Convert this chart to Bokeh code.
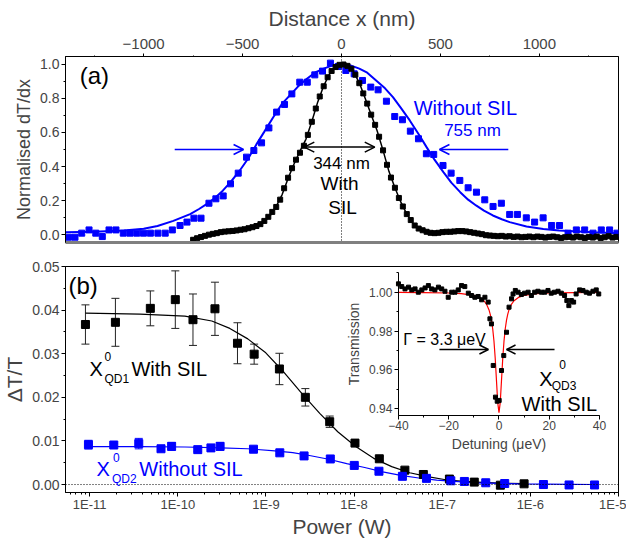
import numpy as np
from bokeh.plotting import figure
from bokeh.layouts import column
from bokeh.models import (Range1d, LinearAxis, LinearScale, SingleIntervalTicker, PrintfTickFormatter,
                          LogTicker, CustomJSTickFormatter, ColumnDataSource, Whisker, TeeHead, Arrow,
                          OpenHead, Label, Span, FixedTicker)
from bokeh.embed import file_html
from bokeh.resources import INLINE

FONT = "Liberation Sans"
BLUE = "#0000ff"

# ---------------- panel (a): Distance x (nm) vs normalised dT/dx ----------------
blue_a_x = [-1380, -1347, -1313, -1276, -1242, -1209, -1175, -1140, -1103, -1069, -1035, -1001, -966, -928,
            -891, -855, -816, -781, -746, -710, -670, -635, -598, -561, -522, -480, -443, -404, -367, -328,
            -288, -251, -211, -173, -135, -96, -56, -17, 22, 64, 106, 148, 185, 227, 269, 308, 348, 389,
            429, 466, 513, 554, 598, 640, 682, 724, 766, 808, 850, 889, 934, 976, 1019, 1062, 1102, 1145,
            1187, 1229, 1271, 1313, 1355, 1392]
blue_a_y = [-0.016, -0.016, 0.008, 0.027, 0.008, -0.012, 0.027, 0.027, 0.008, 0.008, 0.008, 0.008, 0.008,
            0.008, 0.008, 0.027, 0.053, 0.073, 0.096, 0.096, 0.184, 0.210, 0.227, 0.298, 0.361, 0.455,
            0.494, 0.539, 0.627, 0.720, 0.765, 0.827, 0.896, 0.896, 0.939, 0.961, 1.008, 0.988, 0.965,
            0.945, 0.906, 0.867, 0.851, 0.784, 0.694, 0.675, 0.608, 0.563, 0.475, 0.471, 0.406, 0.361,
            0.318, 0.275, 0.249, 0.204, 0.165, 0.184, 0.118, 0.118, 0.098, 0.073, 0.098, 0.053, 0.053,
            0.008, 0.027, 0.027, 0.008, 0.027, 0.027, 0.008]

black_a_x = list(range(-750, 1400, 20))
black_a_y = [-0.031, -0.022, -0.015, -0.008, -0.001, 0.004, 0.008, 0.014, 0.017, 0.019, 0.021, 0.024,
             0.028, 0.031, 0.037, 0.043, 0.050, 0.061, 0.080, 0.104, 0.133, 0.162, 0.205, 0.272, 0.334,
             0.390, 0.440, 0.481, 0.522, 0.586, 0.663, 0.741, 0.812, 0.872, 0.925, 0.962, 0.985, 0.998,
             1.000, 0.992, 0.975, 0.940, 0.890, 0.830, 0.770, 0.705, 0.645, 0.575, 0.495, 0.410, 0.335,
             0.275, 0.215, 0.165, 0.120, 0.085, 0.053, 0.035, 0.025, 0.016, 0.010, 0.008, 0.010, 0.014,
             0.016, 0.016, 0.018, 0.020, 0.020, 0.018, 0.014, 0.010, 0.006, 0.002, -0.004, -0.006, -0.008,
             -0.010, -0.008, -0.012, -0.010, -0.014, -0.012, -0.016, -0.014, -0.012, -0.016, -0.012,
             -0.014, -0.018, -0.014, -0.012, -0.016, -0.020, -0.016, -0.014, -0.018, -0.012, -0.016,
             -0.020, -0.014, -0.018, -0.012, -0.020, -0.016, -0.010, -0.018, -0.014]

fit_black_a_x = [-760, -720, -680, -640, -600, -560, -520, -480, -440, -400, -360, -330, -300, -270, -240,
                 -210, -180, -150, -120, -90, -60, -30, 0, 30, 60, 90, 120, 150, 180, 210, 240, 270, 300,
                 330, 360, 390, 420, 460, 520, 580, 640, 700, 760, 850, 1000, 1200, 1400]
fit_black_a_y = [-0.025, -0.012, -0.002, 0.006, 0.012, 0.017, 0.022, 0.030, 0.042, 0.065, 0.112, 0.165,
                 0.235, 0.330, 0.415, 0.490, 0.560, 0.665, 0.780, 0.875, 0.945, 0.987, 1.000, 0.990, 0.960,
                 0.892, 0.800, 0.705, 0.610, 0.495, 0.370, 0.275, 0.190, 0.120, 0.068, 0.036, 0.020, 0.010,
                 0.013, 0.017, 0.016, 0.004, -0.006, -0.012, -0.014, -0.015, -0.015]

fit_blue_a_x = [-1400, -1250, -1100, -1000, -930, -850, -765, -720, -680, -640, -600, -560, -515, -470, -430,
                -390, -345, -300, -260, -220, -175, -130, -90, -45, 0, 45, 90, 130, 175, 220, 260, 300, 345,
                390, 430, 470, 515, 555, 600, 640, 680, 720, 765, 810, 850, 935, 1020, 1100, 1270, 1400]
fit_blue_a_y = [0.013, 0.016, 0.024, 0.034, 0.050, 0.080, 0.120, 0.150, 0.180, 0.215, 0.258, 0.310, 0.375,
                0.450, 0.530, 0.605, 0.690, 0.770, 0.820, 0.870, 0.916, 0.955, 0.976, 0.995, 1.000, 0.995,
                0.976, 0.952, 0.906, 0.860, 0.808, 0.745, 0.671, 0.590, 0.514, 0.440, 0.367, 0.305, 0.249,
                0.205, 0.171, 0.140, 0.112, 0.090, 0.073, 0.047, 0.033, 0.024, 0.014, 0.008]

# ---------------- panel (b): Power (W) vs dT/T ----------------
black_b_p = [8.96e-12, 1.96e-11, 4.88e-11, 9.37e-11, 1.487e-10, 2.64e-10, 4.755e-10, 7.35e-10, 1.422e-9,
             2.80e-9, 5.29e-9, 1.024e-8, 1.934e-8, 3.77e-8, 6.11e-8, 1.207e-7, 2.31e-7, 4.57e-7, 8.49e-7]
black_b_y = [0.0367, 0.0372, 0.0404, 0.0424, 0.0378, 0.0403, 0.0324, 0.0299, 0.0265, 0.0200, 0.0144,
             0.0095, 0.0059, 0.0033, 0.0023, 0.00125, 0.00055, -0.00015, 0.00016]
black_b_err = [0.0045, 0.0055, 0.0040, 0.0066, 0.0059, 0.0061, 0.0047, 0.0023, 0.0036, 0.0020, 0.0013,
               0.0005, 0.0005, 0.0004, 0.0003, 0.0003, 0.0003, 0.0003, 0.0003]

blue_b_p = [9.69e-12, 1.879e-11, 3.607e-11, 6.45e-11, 8.51e-11, 1.685e-10, 2.377e-10, 3.02e-10, 7.22e-10,
            1.437e-9, 2.708e-9, 5.375e-9, 1.005e-8, 1.915e-8, 3.534e-8, 6.625e-8, 1.252e-7, 1.784e-7,
            3.117e-7, 5.117e-7, 1.407e-6, 2.75e-6, 5.35e-6]
blue_b_y = [0.00914, 0.00906, 0.00938, 0.0082, 0.00875, 0.0080, 0.0084, 0.00875, 0.0081, 0.00727, 0.00656,
            0.00586, 0.00438, 0.00305, 0.00188, 0.00141, 0.00086, 0.0007, 0.0004, 0.00023, 0.0, -0.0001,
            -0.0001]
blue_b_err = [0.0010, 0.0004, 0.0012, 0.0003, 0.0009, 0.0004, 0.0004, 0.0009, 0.0004, 0.0003, 0.0003,
              0.0003, 0.0003, 0.0003, 0.0003, 0.0003, 0.0003, 0.0003, 0.0003, 0.0003, 0.0003, 0.0003,
              0.0003]

fit_black_b_p = [8.96e-12, 3.714e-11, 1.203e-10, 2.433e-10, 3.893e-10, 6.225e-10, 9.96e-10, 1.594e-9,
                 2.55e-9, 4.078e-9, 6.526e-9, 1.044e-8, 1.670e-8, 2.673e-8, 4.276e-8, 6.84e-8, 1.094e-7,
                 1.751e-7, 2.802e-7, 4.48e-7, 8.49e-7]
fit_black_b_y = [0.0393, 0.0391, 0.0386, 0.0375, 0.0358, 0.0334, 0.0302, 0.0258, 0.0209, 0.0163, 0.0121,
                 0.0087, 0.0060, 0.0041, 0.0027, 0.0018, 0.0011, 0.0007, 0.0005, 0.0003, 0.0002]

fit_blue_b_p = [9.69e-12, 3.714e-11, 1.203e-10, 3.077e-10, 6.225e-10, 1.26e-9, 2.016e-9, 3.226e-9, 5.161e-9,
                8.256e-9, 1.32e-8, 2.113e-8, 3.381e-8, 5.41e-8, 8.65e-8, 1.384e-7, 2.215e-7, 3.543e-7,
                7.17e-7, 1.45e-6, 2.935e-6, 5.34e-6]
fit_blue_b_y = [0.0087, 0.0087, 0.0086, 0.0084, 0.0082, 0.0077, 0.0073, 0.0066, 0.0058, 0.0048, 0.0039,
                0.0029, 0.0021, 0.0015, 0.0010, 0.0007, 0.0004, 0.0003, 0.00015, 0.0001, 0.00005, 0.0]

# ---------------- inset: Detuning (ueV) vs Transmission ----------------
ins_det = [-40.0, -38.7, -37.4, -36.0, -34.7, -33.4, -32.1, -30.7, -29.4, -28.1, -26.8, -25.5, -24.1, -22.8,
           -21.5, -20.2, -18.8, -17.5, -16.2, -14.9, -13.6, -12.2, -10.9, -9.6, -8.3, -6.9, -5.6, -4.3,
           -3.6, -3.0, -2.3, -1.4, -0.7, 0.07, 1.0, 1.9, 3.0, 4.0, 5.0, 5.6, 6.5, 7.6, 8.9, 10.2, 11.6,
           12.9, 14.2, 15.5, 16.9, 18.2, 19.5, 20.8, 22.1, 23.5, 24.8, 26.1, 27.0, 27.8, 28.8, 29.7, 30.7,
           32.1, 33.4, 34.7, 36.0, 37.4, 38.7, 39.7]
ins_tr = [1.0043, 1.0029, 1.0017, 1.0026, 1.0012, 1.0017, 1.0000, 1.0012, 1.0022, 1.0034, 1.0017, 1.0012,
          1.0026, 1.0017, 1.0005, 0.9974, 1.0000, 1.0000, 1.0012, 1.0034, 1.0029, 0.9995, 0.9983, 0.9974,
          0.9978, 0.9961, 0.9974, 0.9949, 0.9863, 0.9837, 0.9623, 0.9460, 0.9439, 0.9443, 0.9597, 0.9674,
          0.9794, 0.9923, 0.9966, 0.9991, 1.0009, 1.0000, 0.9988, 0.9995, 1.0000, 0.9983, 1.0000, 1.0005,
          1.0000, 1.0000, 1.0009, 0.9995, 1.0000, 1.0005, 0.9995, 0.9983, 0.9957, 0.9931, 0.9957, 0.9949,
          0.9991, 1.0012, 1.0009, 1.0000, 0.9995, 1.0005, 1.0012, 0.9991]
ins_fit_det = [-40, -30, -20, -15, -10, -8, -6, -5, -4, -3.5, -3, -2.5, -2, -1.5, -1, -0.5, 0,
               0.5, 1, 1.5, 2, 2.5, 3, 3.5, 4, 5, 6, 8, 10, 15, 20, 30, 40]
ins_fit_tr = [0.9999, 0.9998, 0.9996, 0.9993, 0.9984, 0.9975, 0.9956, 0.9939, 0.9910, 0.9887, 0.9856,
              0.9812, 0.9749, 0.9660, 0.9546, 0.9432, 0.9380, 0.9432, 0.9546, 0.9660, 0.9749, 0.9812,
              0.9856, 0.9887, 0.9910, 0.9939, 0.9956, 0.9975, 0.9984, 0.9993, 0.9996, 0.9998, 0.9999]


def style_axis(ax, label_size="14px", tick_size="14px", tick_out=4, lab_off=2, title_off=3):
    ax.axis_label_text_font = FONT
    ax.axis_label_text_font_style = "normal"
    ax.axis_label_text_font_size = label_size
    ax.major_label_text_font = FONT
    ax.major_label_text_font_size = tick_size
    ax.axis_line_color = "black"
    ax.major_tick_line_color = "black"
    ax.minor_tick_line_color = "black"
    ax.major_tick_in = 0
    ax.major_tick_out = tick_out
    ax.minor_tick_in = 0
    ax.minor_tick_out = max(tick_out - 2, 0)
    ax.major_label_standoff = lab_off
    ax.axis_label_standoff = title_off


# ================= top figure =================
p1 = figure(frame_width=553, frame_height=186, x_range=Range1d(-1395, 1400), y_range=Range1d(-0.047, 1.047),
            x_axis_location="above", output_backend="svg", toolbar_location=None,
            min_border_left=61, min_border_right=8, min_border_top=56, min_border_bottom=8)
p1.xgrid.visible = False
p1.ygrid.visible = False
p1.outline_line_color = "black"
p1.background_fill_color = "white"
p1.border_fill_color = "white"

xa = p1.xaxis[0]
xa.ticker = SingleIntervalTicker(interval=500, num_minor_ticks=2)
xa.axis_label = "Distance x (nm)"
style_axis(xa, "21px", "15px", tick_out=3, lab_off=5, title_off=6)
ya = p1.yaxis[0]
ya.ticker = SingleIntervalTicker(interval=0.2, num_minor_ticks=2)
ya.formatter = PrintfTickFormatter(format="%.1f")
ya.axis_label = "Normalised dT/dx"
style_axis(ya, "18px", "14px", tick_out=4, lab_off=2, title_off=3)

bot = LinearAxis(ticker=FixedTicker(ticks=[]), major_tick_out=0, major_tick_in=0, minor_tick_out=0,
                 minor_tick_in=0, axis_line_color="#808080", axis_line_width=3, major_label_standoff=0)
p1.add_layout(bot, "below")

p1.add_layout(Span(location=0, dimension="height", line_color="black", line_dash="1 2", line_width=1))

p1.line(fit_blue_a_x, fit_blue_a_y, line_color=BLUE, line_width=2)
p1.scatter(blue_a_x, blue_a_y, marker="square", size=6, color=BLUE)
p1.scatter(black_a_x, black_a_y, marker="square", size=5, color="black")
p1.line(fit_black_a_x, fit_black_a_y, line_color="black", line_width=1.5)

p1.add_layout(Arrow(end=OpenHead(size=10, line_color=BLUE, line_width=1.5), x_start=-843, y_start=0.5,
                    x_end=-495, y_end=0.5, line_color=BLUE, line_width=1.5))
p1.add_layout(Arrow(end=OpenHead(size=10, line_color=BLUE, line_width=1.5), x_start=843, y_start=0.5,
                    x_end=495, y_end=0.5, line_color=BLUE, line_width=1.5))
p1.add_layout(Arrow(start=OpenHead(size=10, line_color="black", line_width=1.5),
                    end=OpenHead(size=10, line_color="black", line_width=1.5),
                    x_start=-188, y_start=0.514, x_end=168, y_end=0.514, line_color="black", line_width=1.5))

def lab(fig, x, y, text, size, color="black", align="left", baseline="middle", **kw):
    fig.add_layout(Label(x=x, y=y, text=text, text_font=FONT, text_font_size=size, text_color=color,
                         text_align=align, text_baseline=baseline, **kw))

lab(p1, -1323, 0.935, "(a)", "24px")
lab(p1, 626, 0.747, "Without SIL", "20px", BLUE, "center")
lab(p1, 662, 0.612, "755 nm", "17px", BLUE, "center")
lab(p1, 0, 0.418, "344 nm", "17px", "black", "center")
lab(p1, -10, 0.300, "With", "19px", "black", "center")
lab(p1, 5, 0.159, "SIL", "19px", "black", "center")

# ================= bottom figure =================
p2 = figure(frame_width=553, frame_height=226, x_axis_type="log",
            x_range=Range1d(10 ** -11.274, 1e-5), y_range=Range1d(-0.00183, 0.05),
            output_backend="svg", toolbar_location=None,
            min_border_left=61, min_border_right=8, min_border_top=16, min_border_bottom=47)
p2.xgrid.visible = False
p2.ygrid.visible = False
p2.outline_line_color = "black"
xb = p2.xaxis[0]
xb.ticker = LogTicker(num_minor_ticks=10)
xb.formatter = CustomJSTickFormatter(code="return '1E' + Math.round(Math.log10(tick));")
xb.axis_label = "Power (W)"
style_axis(xb, "21px", "13px", tick_out=4, lab_off=0, title_off=0)
yb = p2.yaxis[0]
yb.ticker = SingleIntervalTicker(interval=0.01, num_minor_ticks=2)
yb.formatter = PrintfTickFormatter(format="%.2f")
yb.axis_label = "\u0394T/T"
style_axis(yb, "21px", "14px", tick_out=4, lab_off=2, title_off=3)

p2.add_layout(Span(location=0, dimension="width", line_color="black", line_dash="1 2", line_width=1))

src_k = ColumnDataSource(dict(x=black_b_p, y=black_b_y,
                              lo=[a - b for a, b in zip(black_b_y, black_b_err)],
                              hi=[a + b for a, b in zip(black_b_y, black_b_err)]))
src_b = ColumnDataSource(dict(x=blue_b_p, y=blue_b_y,
                              lo=[a - b for a, b in zip(blue_b_y, blue_b_err)],
                              hi=[a + b for a, b in zip(blue_b_y, blue_b_err)]))
p2.add_layout(Whisker(source=src_k, base="x", lower="lo", upper="hi", line_color="#222222", line_width=1,
                      level="underlay",
                      upper_head=TeeHead(size=8, line_color="#222222", line_width=1),
                      lower_head=TeeHead(size=8, line_color="#222222", line_width=1)))
p2.add_layout(Whisker(source=src_b, base="x", lower="lo", upper="hi", line_color=BLUE, line_width=1,
                      level="underlay",
                      upper_head=TeeHead(size=8, line_color=BLUE, line_width=1),
                      lower_head=TeeHead(size=8, line_color=BLUE, line_width=1)))
p2.line(fit_black_b_p, fit_black_b_y, line_color="black", line_width=1.2)
p2.line(fit_blue_b_p, fit_blue_b_y, line_color=BLUE, line_width=1.2)
p2.scatter("x", "y", source=src_k, marker="square", size=8, color="black")
p2.scatter("x", "y", source=src_b, marker="square", size=8, color=BLUE)

lab(p2, 10 ** -11.240, 0.0456, "(b)", "24px")
lab(p2, 10 ** -11.003, 0.0266, "X", "20px")
lab(p2, 10 ** -10.832, 0.0293, "0", "12px")
lab(p2, 10 ** -10.832, 0.0243, "QD1", "12px")
lab(p2, 10 ** -10.526, 0.0266, "With SIL", "20px")
lab(p2, 10 ** -10.923, 0.0036, "X", "20px", BLUE)
lab(p2, 10 ** -10.736, 0.0063, "0", "12px", BLUE)
lab(p2, 10 ** -10.747, 0.0013, "QD2", "12px", BLUE)
lab(p2, 10 ** -10.436, 0.0036, "Without SIL", "20px", BLUE)

# ---- inset drawn in its own ranges inside panel (b)
p2.extra_x_ranges = {"ix": Range1d(-172.5, 47.56)}
p2.extra_y_ranges = {"iy": Range1d(0.89692, 1.01323)}
p2.extra_x_scales = {"ix": LinearScale()}
p2.extra_y_scales = {"iy": LinearScale()}

iax = LinearAxis(x_range_name="ix", y_range_name="iy", fixed_location=0.9366, bounds=(-40, 40),
                 ticker=SingleIntervalTicker(interval=20, num_minor_ticks=2), axis_label="Detuning (\u03bceV)")
style_axis(iax, "14px", "12px", tick_out=4, lab_off=2, title_off=2)
p2.add_layout(iax, "below")
iay = LinearAxis(x_range_name="ix", y_range_name="iy", fixed_location=-40, bounds=(0.9366, 1.0103),
                 ticker=SingleIntervalTicker(interval=0.02, num_minor_ticks=2),
                 formatter=PrintfTickFormatter(format="%.2f"), axis_label="Transmission")
style_axis(iay, "14px", "12px", tick_out=4, lab_off=2, title_off=4)
p2.add_layout(iay, "left")

p2.line(ins_fit_det, ins_fit_tr, line_color="red", line_width=1.2, x_range_name="ix", y_range_name="iy")
p2.scatter(ins_det, ins_tr, marker="square", size=4, color="black", x_range_name="ix", y_range_name="iy")

p2.add_layout(Arrow(end=OpenHead(size=9, line_color="black", line_width=1.5), x_start=-23.7, y_start=0.9705,
                    x_end=-4.2, y_end=0.9705, line_color="black", line_width=1.5,
                    x_range_name="ix", y_range_name="iy"))
p2.add_layout(Arrow(end=OpenHead(size=9, line_color="black", line_width=1.5), x_start=22.1, y_start=0.9705,
                    x_end=3.0, y_end=0.9705, line_color="black", line_width=1.5,
                    x_range_name="ix", y_range_name="iy"))
lab(p2, -38.1, 0.9755, "\u0393 = 3.3 \u03bceV", "16px", x_range_name="ix", y_range_name="iy")
lab(p2, 16.0, 0.9554, "X", "20px", x_range_name="ix", y_range_name="iy")
lab(p2, 24.0, 0.9628, "0", "12px", x_range_name="ix", y_range_name="iy")
lab(p2, 21.0, 0.9518, "QD3", "12px", x_range_name="ix", y_range_name="iy")
lab(p2, 9.0, 0.9426, "With SIL", "20px", x_range_name="ix", y_range_name="iy")

layout = column(p1, p2, spacing=0)
open("out.html", "w").write(file_html(layout, INLINE))
